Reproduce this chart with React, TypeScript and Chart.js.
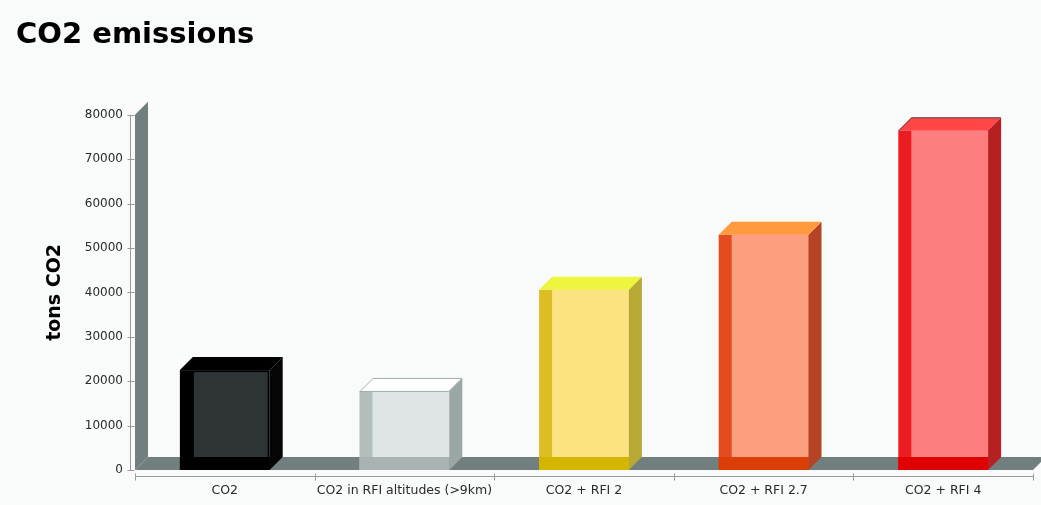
import React, { useEffect, useRef } from 'react';
import { Chart, registerables } from 'chart.js';

Chart.register(...registerables);

// ---- data ----
const chartTitle = 'CO2 emissions';
const yAxisTitle = 'tons CO2';
const categories = ['CO2', 'CO2 in RFI altitudes (>9km)', 'CO2 + RFI 2', 'CO2 + RFI 2.7', 'CO2 + RFI 4'];
const emissions = [22500, 17800, 40600, 53000, 76500];
const yMin = 0;
const yMax = 80000;
const yStep = 10000;

// ---- styles ----
const BG = '#f9fafa';
const WALL = '#717f7e';
const AXIS = '#9a9a9a';
const DEPTH = 13;
const faceTop = ['#000000', '#ffffff', '#eef53e', '#ff9a3e', '#ff4545'];
const faceLeft = ['#000000', '#b2bdbc', '#dcbd24', '#e44c20', '#ec1c22'];
const faceCenter = ['#2e3436', '#dfe5e5', '#fce381', '#fc9e80', '#fc7e7e'];
const faceRight = ['#050505', '#9ba7a6', '#b7a935', '#b64424', '#b72022'];
const faceBottom = ['#000000', '#a7b4b2', '#d4b602', '#da3f07', '#e00203'];
const faceEdge = ['#000000', '#a3adad', null, null, '#555555'];

const threeDPlugin = {
  id: 'threeD',
  afterDatasetsDraw(chart: any) {
    const ctx: CanvasRenderingContext2D = chart.ctx;
    const { left, right } = chart.chartArea;
    const ys = chart.scales.y;
    const xs = chart.scales.x;
    const d = DEPTH;
    const y0 = ys.getPixelForValue(yMin);
    const yTop = ys.getPixelForValue(yMax);
    const poly = (pts: number[][], fill: string) => {
      ctx.beginPath();
      ctx.moveTo(pts[0][0], pts[0][1]);
      for (let i = 1; i < pts.length; i++) ctx.lineTo(pts[i][0], pts[i][1]);
      ctx.closePath();
      ctx.fillStyle = fill;
      ctx.fill();
    };
    ctx.save();
    // back wall
    poly([[left, yTop], [left + d, yTop - d], [left + d, y0 - d], [left, y0]], WALL);
    // floor
    poly([[left, y0], [left + d, y0 - d], [right + d, y0 - d], [right, y0]], WALL);

    // bars
    const meta = chart.getDatasetMeta(0);
    meta.data.forEach((bar: any, i: number) => {
      const p = bar.getProps(['x', 'y', 'base', 'width'], true);
      const w = p.width;
      const x0 = p.x - w / 2;
      const x1 = p.x + w / 2;
      const yt = p.y;
      const yb = p.base;
      // front (left strip color)
      ctx.fillStyle = faceLeft[i];
      ctx.fillRect(x0, yt, w, yb - yt);
      // bottom strip
      ctx.fillStyle = faceBottom[i];
      ctx.fillRect(x0, yb - d, w, d);
      // center
      ctx.fillStyle = faceCenter[i];
      if (i === 0) {
        ctx.fillRect(x0 + d + 1, yt + 2, w - d - 3, yb - d - yt - 2);
      } else {
        ctx.fillRect(x0 + d, yt, w - d, yb - d - yt);
      }
      // right face
      poly([[x1, yt], [x1 + d, yt - d], [x1 + d, yb - d], [x1, yb]], faceRight[i]);
      // top face
      poly([[x0, yt], [x0 + d, yt - d], [x1 + d, yt - d], [x1, yt]], faceTop[i]);
      const edge = faceEdge[i];
      if (edge) {
        ctx.strokeStyle = edge;
        ctx.lineWidth = 1;
        ctx.beginPath();
        ctx.moveTo(x0 + 0.5, yt + 0.5);
        ctx.lineTo(x0 + d + 0.5, yt - d + 0.5);
        ctx.lineTo(x1 + d - 0.5, yt - d + 0.5);
        if (i === 1) {
          ctx.lineTo(x1 - 0.5, yt + 0.5);
          ctx.closePath();
        }
        ctx.stroke();
      }
    });

    // axes (offset from the plot like the original)
    ctx.strokeStyle = AXIS;
    ctx.lineWidth = 1;
    const ax = Math.round(left) - 5 + 0.5;
    ctx.beginPath();
    ctx.moveTo(ax, yTop);
    ctx.lineTo(ax, y0);
    ys.ticks.forEach((t: any) => {
      const py = Math.round(ys.getPixelForValue(t.value)) + 0.5;
      ctx.moveTo(ax - 3, py);
      ctx.lineTo(ax + 4, py);
    });
    const ay = Math.round(y0) + 6 + 0.5;
    ctx.moveTo(left, ay);
    ctx.lineTo(right, ay);
    const n = categories.length;
    for (let k = 0; k <= n; k++) {
      const px = Math.round(xs.left + (k * (xs.right - xs.left)) / n) + 0.5;
      ctx.moveTo(px, ay - 3);
      ctx.lineTo(px, ay + 4);
    }
    ctx.stroke();
    ctx.restore();
  },
};

export default function App() {
  const canvasRef = useRef<HTMLCanvasElement | null>(null);

  useEffect(() => {
    document.body.style.margin = '0';
    document.body.style.background = BG;
    const canvas = canvasRef.current;
    if (!canvas) return;
    const chart = new Chart(canvas, {
      type: 'bar',
      data: {
        labels: categories,
        datasets: [
          {
            label: yAxisTitle,
            data: emissions,
            backgroundColor: 'rgba(0,0,0,0)',
            borderWidth: 0,
            categoryPercentage: 1,
            barPercentage: 0.5,
          },
        ],
      },
      options: {
        animation: false,
        responsive: true,
        maintainAspectRatio: false,
        layout: { padding: { left: 16, right: 8, top: 0, bottom: 0 } },
        plugins: {
          legend: { display: false },
          tooltip: { enabled: false },
          title: {
            display: true,
            text: chartTitle,
            align: 'start',
            color: '#000000',
            font: { family: 'DejaVu Sans', size: 29, weight: 'bold' },
            padding: { top: 18, bottom: 62 },
          },
        },
        scales: {
          x: {
            grid: { display: false, drawTicks: false },
            border: { display: false },
            ticks: {
              color: '#2a2a2a',
              font: { family: 'DejaVu Sans', size: 12.5 },
              padding: 13,
              maxRotation: 0,
              autoSkip: false,
            },
            afterFit(scale: any) {
              scale.height = 35;
            },
          },
          y: {
            min: yMin,
            max: yMax,
            grid: { display: false, drawTicks: false },
            border: { display: false },
            ticks: {
              stepSize: yStep,
              color: '#2a2a2a',
              font: { family: 'DejaVu Sans', size: 12 },
              padding: 12,
              callback: (v: any) => String(v),
            },
            title: {
              display: true,
              text: yAxisTitle,
              color: '#000000',
              font: { family: 'DejaVu Sans', size: 19, weight: 'bold' },
              padding: { top: 28, bottom: 0 },
            },
            afterFit(scale: any) {
              scale.width = 119;
            },
          },
        },
      },
      plugins: [threeDPlugin],
    });
    return () => chart.destroy();
  }, []);

  return (
    <div style={{ position: 'relative', width: 1041, height: 505, background: BG }}>
      <canvas ref={canvasRef} />
    </div>
  );
}
